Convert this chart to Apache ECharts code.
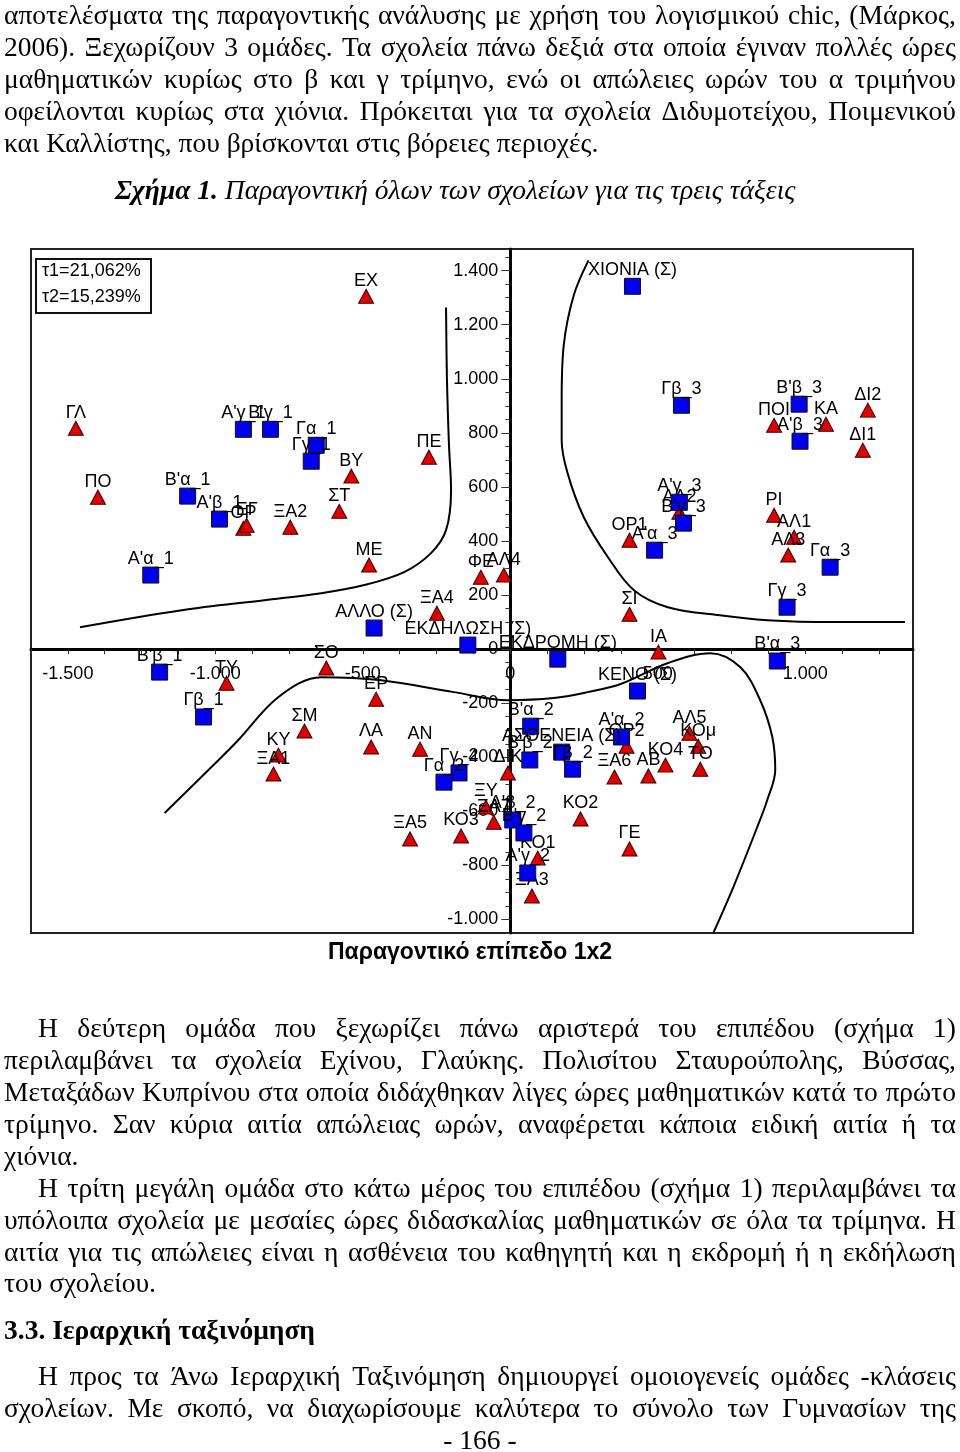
<!DOCTYPE html>
<html><head><meta charset="utf-8">
<script src="https://cdn.jsdelivr.net/npm/echarts@6/dist/echarts.min.js"></script>
<style>
html,body{margin:0;padding:0;background:#fff;}
#page{position:relative;width:960px;height:1452px;overflow:hidden;background:#fff;}
#chart{position:absolute;left:0;top:0;width:960px;height:1452px;}
.ln{position:absolute;left:4px;width:952px;height:32px;line-height:32px;font-family:"Liberation Serif","Times New Roman",serif;font-size:27.5px;color:#000;white-space:nowrap;}
.j{display:flex;justify-content:space-between;}
.ind{left:38px;width:918px;}
</style>
</head><body><div id="page">
<div id="chart"></div>
<div class="ln j" style="top:-1px">αποτελέσματα της παραγοντικής ανάλυσης με χρήση του λογισμικού chic, (Μάρκος,</div>
<div class="ln j" style="top:31px">2006). Ξεχωρίζουν 3 ομάδες. Τα σχολεία πάνω δεξιά στα οποία έγιναν πολλές ώρες</div>
<div class="ln j" style="top:63px">μαθηματικών κυρίως στο β και γ τρίμηνο, ενώ οι απώλειες ωρών του α τριμήνου</div>
<div class="ln j" style="top:95px">οφείλονται κυρίως στα χιόνια. Πρόκειται για τα σχολεία Διδυμοτείχου, Ποιμενικού</div>
<div class="ln" style="top:127px">και Καλλίστης, που βρίσκονται στις βόρειες περιοχές.</div>
<div class="ln" style="top:174px;left:115px;font-style:italic"><b>Σχήμα 1.</b> Παραγοντική όλων των σχολείων για τις τρεις τάξεις</div>

<div class="ln j ind" style="top:1012px">Η δεύτερη ομάδα που ξεχωρίζει πάνω αριστερά του επιπέδου (σχήμα 1)</div>
<div class="ln j" style="top:1044px">περιλαμβάνει τα σχολεία Εχίνου, Γλαύκης. Πολισίτου Σταυρούπολης, Βύσσας,</div>
<div class="ln j" style="top:1076px">Μεταξάδων Κυπρίνου στα οποία διδάχθηκαν λίγες ώρες μαθηματικών κατά το πρώτο</div>
<div class="ln j" style="top:1108px">τρίμηνο. Σαν κύρια αιτία απώλειας ωρών, αναφέρεται κάποια ειδική αιτία ή τα</div>
<div class="ln" style="top:1140px">χιόνια.</div>
<div class="ln j ind" style="top:1172px">Η τρίτη μεγάλη ομάδα στο κάτω μέρος του επιπέδου (σχήμα 1) περιλαμβάνει τα</div>
<div class="ln j" style="top:1204px">υπόλοιπα σχολεία με μεσαίες ώρες διδασκαλίας μαθηματικών σε όλα τα τρίμηνα. Η</div>
<div class="ln j" style="top:1236px">αιτία για τις απώλειες είναι η ασθένεια του καθηγητή και η εκδρομή ή η εκδήλωση</div>
<div class="ln" style="top:1267px">του σχολείου.</div>
<div class="ln" style="top:1314px;font-weight:bold">3.3. Ιεραρχική ταξινόμηση</div>
<div class="ln j ind" style="top:1360px">Η προς τα Άνω Ιεραρχική Ταξινόμηση δημιουργεί ομοιογενείς ομάδες -κλάσεις</div>
<div class="ln j" style="top:1392px">σχολείων. Με σκοπό, να διαχωρίσουμε καλύτερα το σύνολο των Γυμνασίων της</div>
<div class="ln" style="top:1424px;left:0;width:960px;text-align:center">- 166 -</div>
</div>
<script>
// justify each line by spreading its words
document.querySelectorAll('.j').forEach(el=>{
  const words = el.textContent.trim().split(/\s+/);
  el.textContent = '';
  words.forEach(w=>{const s=document.createElement('span'); s.textContent=w; el.appendChild(s);});
});

// ---- data ----
const schoolNames = ['ΓΛ','ΕΧ','ΠΟΙ','ΚΑ','ΔΙ2','ΔΙ1','ΒΥ','ΣΤ','ΠΕ','ΜΕ','ΦΕ','ΑΛ4','ΞΑ4','ΠΟ','ΟΡ','ΕΓ','ΞΑ2','ΑΛ2','ΟΡ1','ΡΙ','ΑΛ1','ΑΛ3','ΣΙ','ΙΑ','ΣΟ','ΤΥ','ΣΜ','ΚΥ','ΞΑ1','ΕΡ','ΛΑ','ΑΝ','ΔΙΚ','ΟΡ2','ΞΑ6','ΑΒ','ΚΟ4','ΑΛ5','ΚΟμ','ΤΟ','ΞΥ','ΞΑ7','ΚΟ3','ΞΑ5','ΚΟ2','ΚΟ1','ΞΑ3','ΓΕ'];
const schoolX = [-1473,-489,894,1070,1212,1195,-539,-580,-276,-479,-100,-22,-249,-1398,-905,-894,-746,573,404,894,962,942,404,502,-624,-962,-698,-786,-803,-455,-472,-306,-8,394,353,468,526,607,637,644,-83,-56,-167,-340,238,93,73,404];
const schoolY = [817,1305,828,832,884,736,640,510,710,311,266,274,133,562,447,458,451,506,403,495,414,348,129,-11,-70,-126,-303,-392,-462,-185,-362,-370,-458,-359,-473,-469,-429,-311,-359,-444,-584,-640,-691,-702,-628,-773,-913,-739];

const classNames = ['ΧΙΟΝΙΑ (Σ)','Γβ_3','Β\'β_3','Α\'β_3','Α\'γ_1','Β\'γ_1','Γα_1','Γγ_1','Β\'α_1','Α\'β_1','Α\'α_1','Α\'γ_3','Β\'γ_3','Α\'α_3','Γα_3','Γγ_3','ΑΛΛΟ (Σ)','ΕΚΔΗΛΩΣΗ (Σ)','ΕΚΔΡΟΜΗ (Σ)','Β\'α_3','Β\'β_1','Γβ_1','ΚΕΝΟ (Σ)','Β\'α_2','Α\'α_2','ΑΣΘΕΝΕΙΑ (Σ)','Β\'β_2','Γβ_2','Γγ_2','Γα_2','Α\'β_2','Β\'γ_2','Α\'γ_2'];
const classX = [414,580,979,982,-905,-813,-658,-675,-1094,-986,-1219,573,587,489,1084,938,-462,-144,161,905,-1189,-1040,431,69,377,174,66,211,-174,-225,8,46,59];
const classY = [1342,902,906,769,813,813,754,695,566,481,274,543,466,366,303,155,78,15,-37,-44,-85,-251,-155,-285,-325,-381,-410,-444,-458,-492,-632,-680,-828];

// hand-drawn group boundaries (axis units)
const curveA = [[-218,1264],[-215,1002],[-208,754],[-201,588],[-218,440],[-269,355],[-360,285],[-495,237],[-641,207],[-834,181],[-1114,144],[-1459,81]];
const curveB = [[265,1438],[215,1309],[181,1124],[174,920],[174,773],[194,651],[249,488],[331,340],[419,218],[534,155],[703,126],[871,107],[1094,100],[1338,100]];
const curveC = [[-1172,-606],[-989,-410],[-922,-336],[-786,-177],[-641,-104],[-438,-115],[-191,-159],[-8,-189],[147,-181],[262,-159],[374,-129],[533,-52],[678,-15],[780,-67],[847,-189],[888,-325],[898,-447],[871,-558],[837,-658],[756,-880],[688,-1050]];

const xLabelValues = [-1500,-1000,-500,0,500,1000];
const yLabelValues = [-1000,-800,-600,-400,-200,0,200,400,600,800,1000,1200,1400];
const inertia = ['τ1=21,062%','τ2=15,239%'];
const chartTitle = 'Παραγοντικό επίπεδο 1x2';

// ---- chart ----
const FF = '"Liberation Sans", Arial, sans-serif';
const X_MIN = -1625, X_MAX = 1365, Y_MIN = -1050, Y_MAX = 1480;
function fmt(v){
  const a = Math.abs(v);
  const s = a >= 1000 ? Math.floor(a/1000) + '.' + String(a%1000).padStart(3,'0') : String(a);
  return (v < 0 ? '-' : '') + s;
}
const chart = echarts.init(document.getElementById('chart'), null, {renderer:'canvas'});
const lab = {show:true, position:'top', distance:-1, formatter:p=>p.data[2], fontFamily:FF, fontSize:18, color:'#000'};
const curveStyle = {type:'line', smooth:0.35, showSymbol:false, symbol:'none', silent:true, lineStyle:{color:'#000', width:2}, z:1};
chart.setOption({
  animation:false,
  backgroundColor:'transparent',
  grid:{left:31, right:47, top:249, bottom:519, show:true, borderColor:'#222', borderWidth:2, containLabel:false, outerBoundsMode:'none'},
  xAxis:{type:'value', position:'bottom', min:X_MIN, max:X_MAX, interval:125,
    axisLine:{onZero:false, lineStyle:{color:'#000', width:3}},
    axisTick:{show:true, length:5, lineStyle:{color:'#333', width:1}},
    axisLabel:{fontFamily:FF, fontSize:18, color:'#000', margin:16, hideOverlap:false,
      formatter:v=> xLabelValues.indexOf(v) >= 0 ? fmt(v) : ''},
    splitLine:{show:false}},
  yAxis:[
    {type:'value', position:'left', min:Y_MIN, max:Y_MAX, interval:50,
      axisLine:{onZero:false, lineStyle:{color:'#000', width:3}},
      axisTick:{show:true, length:5, lineStyle:{color:'#333', width:1}},
      axisLabel:{fontFamily:FF, fontSize:18, color:'#000', margin:12, hideOverlap:false,
        formatter:v=> yLabelValues.indexOf(v) >= 0 ? fmt(v) : ''},
      splitLine:{show:false}},
    {type:'value', position:'left', min:Y_MIN, max:Y_MAX, interval:50,
      axisLine:{show:false, onZero:false},
      axisTick:{show:true, length:9, customValues:yLabelValues, lineStyle:{color:'#333', width:1}},
      axisLabel:{show:false},
      splitLine:{show:false}}
  ],
  graphic:[
    {type:'rect', left:35, top:258, shape:{width:115, height:54}, style:{fill:'#fff', stroke:'#111', lineWidth:2}, z:10},
    {type:'text', left:42, top:262, style:{text:inertia[0], font:'18px '+FF, fill:'#000'}, z:11},
    {type:'text', left:42, top:288, style:{text:inertia[1], font:'18px '+FF, fill:'#000'}, z:11},
    {type:'text', x:470, y:953, style:{text:chartTitle, font:'bold 23px '+FF, fill:'#000', align:'center', verticalAlign:'middle'}, z:11}
  ],
  series:[
    Object.assign({data:curveA}, curveStyle),
    Object.assign({data:curveB}, curveStyle),
    Object.assign({data:curveC}, curveStyle),
    {type:'scatter', symbol:'triangle', symbolSize:[15,14], z:3,
      itemStyle:{color:'#E00000', borderColor:'#3a0000', borderWidth:1, opacity:1},
      label:lab,
      data:schoolX.map((x,i)=>[x, schoolY[i], schoolNames[i]])},
    {type:'scatter', symbol:'rect', symbolSize:16, z:4,
      itemStyle:{color:'#0000EE', borderColor:'#111', borderWidth:1, opacity:1},
      label:lab,
      data:classX.map((x,i)=>[x, classY[i], classNames[i]])}
  ]
});
// move both axes onto the origin (offset measured by the library's own scales)
const origin = chart.convertToPixel({gridIndex:0}, [0, 0]);
const corner = chart.convertToPixel({gridIndex:0}, [X_MIN, Y_MIN]);
const yOff = corner[0] - origin[0];   // left axis: positive offset moves left
const xOff = origin[1] - corner[1];   // bottom axis: positive offset moves down
chart.setOption({xAxis:{offset:xOff}, yAxis:[{offset:yOff},{offset:yOff}]});
</script>
</body></html>
